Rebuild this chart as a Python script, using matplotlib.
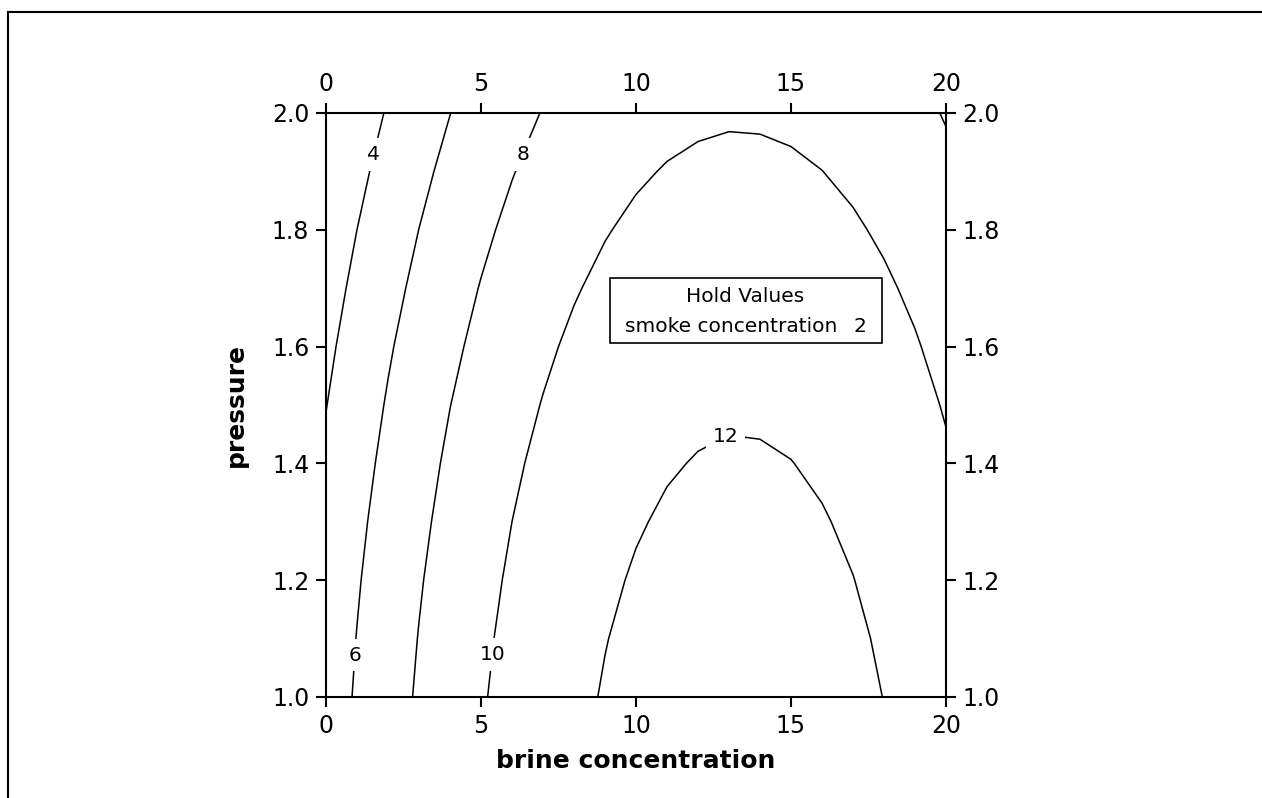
import matplotlib
matplotlib.use('Agg')
import matplotlib.pyplot as plt
from matplotlib.patches import Rectangle
from matplotlib.lines import Line2D
from matplotlib.ticker import FormatStrFormatter

# grid the contour was read from
brine = [0, 1, 2, 3, 4, 5, 6, 7, 8, 9, 10, 11, 12, 13, 14, 15, 16, 17, 18, 19, 20]
pressure = [1.0, 1.1, 1.2, 1.3, 1.4, 1.5, 1.6, 1.7, 1.8, 1.9, 2.0]

# response values, one row per pressure value (smoke concentration held at 2)
response = [
    [5.05, 6.18, 7.23, 8.20, 9.07, 9.85, 10.55, 11.15, 11.67, 12.10, 12.44, 12.70, 12.86, 12.94, 12.92, 12.82, 12.63, 12.35, 11.98, 11.53, 10.98],
    [4.90, 6.04, 7.09, 8.05, 8.92, 9.71, 10.40, 11.01, 11.53, 11.96, 12.30, 12.55, 12.71, 12.79, 12.78, 12.68, 12.48, 12.21, 11.84, 11.38, 10.84],
    [4.72, 5.86, 6.91, 7.87, 8.74, 9.52, 10.22, 10.83, 11.35, 11.78, 12.12, 12.37, 12.53, 12.61, 12.59, 12.49, 12.30, 12.02, 11.66, 11.20, 10.65],
    [4.50, 5.64, 6.69, 7.65, 8.52, 9.31, 10.00, 10.61, 11.13, 11.56, 11.90, 12.15, 12.31, 12.39, 12.38, 12.28, 12.08, 11.81, 11.44, 10.98, 10.44],
    [4.25, 5.38, 6.43, 7.40, 8.27, 9.05, 9.75, 10.36, 10.87, 11.30, 11.64, 11.90, 12.06, 12.14, 12.12, 12.02, 11.83, 11.55, 11.18, 10.73, 10.18],
    [3.96, 5.09, 6.14, 7.11, 7.98, 8.76, 9.46, 10.06, 10.58, 11.01, 11.35, 11.61, 11.77, 11.85, 11.83, 11.73, 11.54, 11.26, 10.89, 10.44, 9.89],
    [3.63, 4.77, 5.82, 6.78, 7.65, 8.43, 9.13, 9.74, 10.26, 10.69, 11.03, 11.28, 11.44, 11.52, 11.50, 11.40, 11.21, 10.93, 10.57, 10.11, 9.56],
    [3.26, 4.40, 5.45, 6.41, 7.29, 8.07, 8.77, 9.37, 9.89, 10.32, 10.66, 10.91, 11.08, 11.15, 11.14, 11.04, 10.85, 10.57, 10.20, 9.75, 9.20],
    [2.86, 4.00, 5.05, 6.01, 6.89, 7.67, 8.37, 8.97, 9.49, 9.92, 10.26, 10.51, 10.68, 10.75, 10.74, 10.64, 10.45, 10.17, 9.80, 9.35, 8.80],
    [2.43, 3.57, 4.62, 5.58, 6.45, 7.23, 7.93, 8.54, 9.06, 9.49, 9.83, 10.08, 10.24, 10.32, 10.30, 10.20, 10.01, 9.73, 9.37, 8.91, 8.36],
    [1.96, 3.09, 4.14, 5.11, 5.98, 6.76, 7.46, 8.06, 8.58, 9.01, 9.35, 9.61, 9.77, 9.85, 9.83, 9.73, 9.54, 9.26, 8.89, 8.44, 7.89],
]

levels = [4, 6, 8, 10, 12]
x_ticks = [0, 5, 10, 15, 20]
y_ticks = [1.0, 1.2, 1.4, 1.6, 1.8, 2.0]

hold_name = 'smoke concentration'
hold_value = '2'


fig = plt.figure(figsize=(12.62, 7.98), dpi=100)
ax = fig.add_axes([0.2583, 0.1266, 0.4913, 0.7318])

cs = ax.contour(brine, pressure, response, levels=levels, colors='black', linewidths=1.1)

# where the labels sit on the lines
spots = [(1.48, 1.93), (0.84, 1.072), (6.32, 1.93), (5.39, 1.072), (12.85, 1.45)]
labels = ax.clabel(cs, manual=spots, fmt='%d', fontsize=14.5, inline=False)
for t in labels:
    t.set_rotation(0)
    t.set_bbox(dict(facecolor='white', edgecolor='none', pad=5))

ax.set_xlim(0, 20)
ax.set_ylim(1, 2)
ax.set_xticks(x_ticks)
ax.set_yticks(y_ticks)
ax.yaxis.set_major_formatter(FormatStrFormatter('%.1f'))
ax.tick_params(direction='out', length=7, width=1.5, top=True, right=True,
               labeltop=True, labelright=True, labelsize=17, pad=5)
for s in ax.spines.values():
    s.set_linewidth(1.5)

ax.set_xlabel('brine concentration', fontsize=18, fontweight='bold', labelpad=8)
ax.set_ylabel('pressure', fontsize=18, fontweight='bold', labelpad=17)

# hold values box
ax.add_patch(Rectangle((9.16, 1.606), 8.78, 0.111, fill=False, edgecolor='black', linewidth=1.2))
ax.text(13.52, 1.6855, 'Hold Values', ha='center', va='center', fontsize=14.5)
ax.text(9.65, 1.634, hold_name, ha='left', va='center', fontsize=14.5)
ax.text(17.24, 1.634, hold_value, ha='center', va='center', fontsize=14.5)

# outer frame, only left and top edges show
fig.add_artist(Line2D([8 / 1262, 8 / 1262], [0, 1 - 12 / 798], color='black', linewidth=1.5))
fig.add_artist(Line2D([8 / 1262, 1], [1 - 12 / 798, 1 - 12 / 798], color='black', linewidth=1.5))

fig.savefig('out.png', dpi=100)
